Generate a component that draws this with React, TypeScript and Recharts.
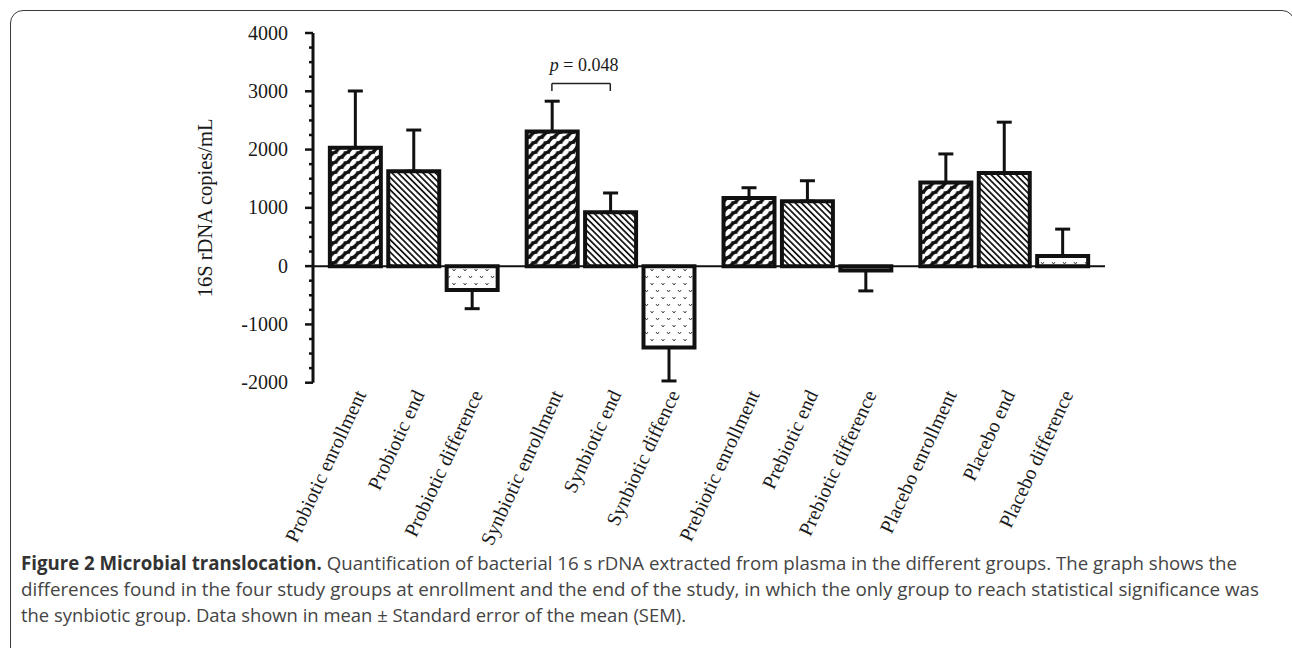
import React from 'react';
import { BarChart, Bar, XAxis, YAxis, Cell, ErrorBar, ReferenceLine } from 'recharts';

// ---------- data ----------
const CATEGORIES = [
  'Probiotic enrollment',
  'Probiotic end',
  'Probiotic difference',
  'Synbiotic enrollment',
  'Synbiotic end',
  'Synbiotic diffence',
  'Prebiotic enrollment',
  'Prebiotic end',
  'Prebiotic difference',
  'Placebo enrollment',
  'Placebo end',
  'Placebo difference',
];
const MEANS = [2030, 1630, -410, 2310, 925, -1395, 1170, 1115, -75, 1435, 1600, 175];
const SEM = [975, 705, 320, 520, 330, 575, 175, 350, 350, 490, 870, 460];
const Y_MAJOR_TICKS = [-2000, -1000, 0, 1000, 2000, 3000, 4000];
const Y_AXIS_LABEL = '16S rDNA copies/mL';
const P_VALUE = '0.048';
const CAPTION_TITLE = 'Figure 2 Microbial translocation.';
const CAPTION_LINES = [
  ' Quantification of bacterial 16 s rDNA extracted from plasma in the different groups. The graph shows the',
  'differences found in the four study groups at enrollment and the end of the study, in which the only group to reach statistical significance was',
  'the synbiotic group. Data shown in mean \u00b1 Standard error of the mean (SEM).',
];

// ---------- layout ----------
const GROUP_STEP = 3.37;
const PATTERNS = ['url(#patEnroll)', 'url(#patEnd)', 'url(#patDiff)'];
const SERIF = '"Liberation Serif", "Times New Roman", serif';

const data = CATEGORIES.map((name, i) => {
  const g = Math.floor(i / 3);
  const k = i % 3;
  const mean = MEANS[i];
  return {
    name,
    pos: g * GROUP_STEP + k,
    mean,
    kind: k,
    err: mean >= 0 ? [0, SEM[i]] : [SEM[i], 0],
  };
});
const X_TICKS = data.map((d) => d.pos);

const Y_TICKS: number[] = [];
for (let i = 0; i < Y_MAJOR_TICKS.length; i++) {
  Y_TICKS.push(Y_MAJOR_TICKS[i]);
  if (i < Y_MAJOR_TICKS.length - 1) {
    const step = (Y_MAJOR_TICKS[i + 1] - Y_MAJOR_TICKS[i]) / 4;
    for (let j = 1; j < 4; j++) Y_TICKS.push(Y_MAJOR_TICKS[i] + j * step);
  }
}

const XTick = (props: any) => {
  const { x, y, payload } = props;
  const entry = data.find((d) => Math.abs(d.pos - payload.value) < 1e-6);
  return (
    <g transform={`translate(${x + 6},${y + 1})`}>
      <text
        transform="rotate(-65)"
        textAnchor="end"
        dy={6}
        fontFamily={SERIF}
        fontSize={20}
        fill="#1a1a1a"
      >
        {entry ? entry.name : ''}
      </text>
    </g>
  );
};

const YTick = (props: any) => {
  const { x, y, payload } = props;
  const major = Y_MAJOR_TICKS.includes(payload.value);
  return (
    <g>
      <line x1={x - (major ? 8 : 4)} x2={x} y1={y} y2={y} stroke="#111" strokeWidth={2.5} />
      {major && (
        <text x={x - 25} y={y} dy={6.5} textAnchor="end" fontFamily={SERIF} fontSize={20} fill="#1a1a1a">
          {payload.value}
        </text>
      )}
    </g>
  );
};

const YLabel = (props: any) => {
  const vb = props.viewBox || {};
  const cx = (vb.x ?? 233) - 28;
  const cy = (vb.y ?? 33) + (vb.height ?? 350) / 2;
  return (
    <text
      x={cx}
      y={cy}
      transform={`rotate(-90, ${cx}, ${cy})`}
      textAnchor="middle"
      dy={7}
      fontFamily={SERIF}
      fontSize={20.5}
      fill="#1a1a1a"
    >
      {Y_AXIS_LABEL}
    </text>
  );
};

const PLabel = (props: any) => {
  const vb = props.viewBox || {};
  const x1 = vb.x1 ?? vb.x ?? 0;
  const x2 = vb.x2 ?? (vb.x ?? 0) + (vb.width ?? 0);
  const y = vb.y1 ?? vb.y ?? 0;
  return (
    <text x={(x1 + x2) / 2 + 3} y={y - 12} textAnchor="middle" fontFamily={SERIF} fontSize={18} fill="#1a1a1a">
      <tspan fontStyle="italic">p</tspan>
      {' = ' + P_VALUE}
    </text>
  );
};

const ENROLL_W = 12.5;
const ENROLL_H = 10;
const enrollEllipses: JSX.Element[] = [];
[[3.1, 2.5], [9.4, 7.5]].forEach(([cx, cy], a) => {
  [-ENROLL_W, 0, ENROLL_W].forEach((dx) => {
    [-ENROLL_H, 0, ENROLL_H].forEach((dy) => {
      enrollEllipses.push(
        <ellipse
          key={`${a}-${dx}-${dy}`}
          cx={cx + dx}
          cy={cy + dy}
          rx={4.3}
          ry={2.4}
          fill="#fff"
          transform={`rotate(-48, ${cx + dx}, ${cy + dy})`}
        />
      );
    });
  });
});

const Patterns = () => (
  <defs>
    <pattern id="patEnroll" patternUnits="userSpaceOnUse" width={ENROLL_W} height={ENROLL_H}>
      <rect width={ENROLL_W} height={ENROLL_H} fill="#111" />
      {enrollEllipses}
    </pattern>
    <pattern id="patEnd" patternUnits="userSpaceOnUse" width={4.4} height={10} patternTransform="rotate(-45)">
      <rect width={4.4} height={10} fill="#fff" />
      <rect x={0} y={0} width={1.7} height={10} fill="#111" />
    </pattern>
    <pattern id="patDiff" patternUnits="userSpaceOnUse" width={11} height={14}>
      <rect width={11} height={14} fill="#fff" />
      <path d="M1.5 3 L3 5 L4.5 3 M7 10 L8.5 12 L10 10" fill="none" stroke="#444" strokeWidth={1} />
    </pattern>
  </defs>
);

const CAPTION_FONT = '"Open Sans", sans-serif';

export default function App() {
  return (
    <div
      style={{
        position: 'absolute',
        left: 0,
        top: 0,
        width: 1292,
        height: 648,
        overflow: 'hidden',
        background: '#fff',
      }}
    >
      <div
        style={{
          position: 'absolute',
          left: 10,
          top: 10,
          width: 1285,
          height: 700,
          boxSizing: 'border-box',
          border: '1.6px solid #3a3a3a',
          borderRadius: 13,
        }}
      />
      <div style={{ position: 'absolute', left: 0, top: 0 }}>
        <BarChart
          width={1292}
          height={560}
          data={data}
          margin={{ top: 33, right: 187, left: 233, bottom: 17.3 }}
        >
          <Patterns />
          <XAxis
            dataKey="pos"
            type="number"
            domain={[-0.72, 12.84]}
            ticks={X_TICKS}
            interval={0}
            axisLine={false}
            tickLine={false}
            tickSize={0}
            tickMargin={8}
            height={160}
            tick={<XTick />}
            allowDataOverflow
          />
          <YAxis
            type="number"
            domain={[-2000, 4000]}
            ticks={Y_TICKS}
            interval={0}
            width={80}
            tickSize={0}
            tickMargin={0}
            tickLine={false}
            axisLine={{ stroke: '#111', strokeWidth: 3 }}
            tick={<YTick />}
            label={{ content: <YLabel /> }}
            allowDataOverflow
          />
          <Bar dataKey="mean" barSize={51} stroke="#111" strokeWidth={4} isAnimationActive={false}>
            {data.map((d, i) => (
              <Cell key={i} fill={PATTERNS[d.kind]} stroke="#111" strokeWidth={4} />
            ))}
            <ErrorBar dataKey="err" direction="y" width={7.5} stroke="#111" strokeWidth={3} isAnimationActive={false} />
          </Bar>
          <ReferenceLine y={0} stroke="#111" strokeWidth={2} />
          <ReferenceLine
            segment={[{ x: GROUP_STEP, y: 3135 }, { x: GROUP_STEP + 1, y: 3135 }]}
            stroke="#222"
            strokeWidth={1.5}
            label={{ content: <PLabel /> }}
          />
          <ReferenceLine segment={[{ x: GROUP_STEP, y: 3135 }, { x: GROUP_STEP, y: 3005 }]} stroke="#222" strokeWidth={1.5} />
          <ReferenceLine
            segment={[{ x: GROUP_STEP + 1, y: 3135 }, { x: GROUP_STEP + 1, y: 3005 }]}
            stroke="#222"
            strokeWidth={1.5}
          />
        </BarChart>
      </div>
      <svg
        width={1292}
        height={648}
        style={{ position: 'absolute', left: 0, top: 0, pointerEvents: 'none' }}
      >
        <text
          x={21}
          y={570}
          textLength={1216}
          lengthAdjust="spacingAndGlyphs"
          fontFamily={CAPTION_FONT}
          fontSize={19}
          fill="#444"
        >
          <tspan fontWeight="bold" fill="#333">{CAPTION_TITLE}</tspan>
          <tspan>{CAPTION_LINES[0]}</tspan>
        </text>
        <text
          x={21}
          y={596}
          textLength={1238}
          lengthAdjust="spacingAndGlyphs"
          fontFamily={CAPTION_FONT}
          fontSize={19}
          fill="#444"
        >
          {CAPTION_LINES[1]}
        </text>
        <text
          x={21}
          y={622}
          textLength={665}
          lengthAdjust="spacingAndGlyphs"
          fontFamily={CAPTION_FONT}
          fontSize={19}
          fill="#444"
        >
          {CAPTION_LINES[2]}
        </text>
      </svg>
    </div>
  );
}
